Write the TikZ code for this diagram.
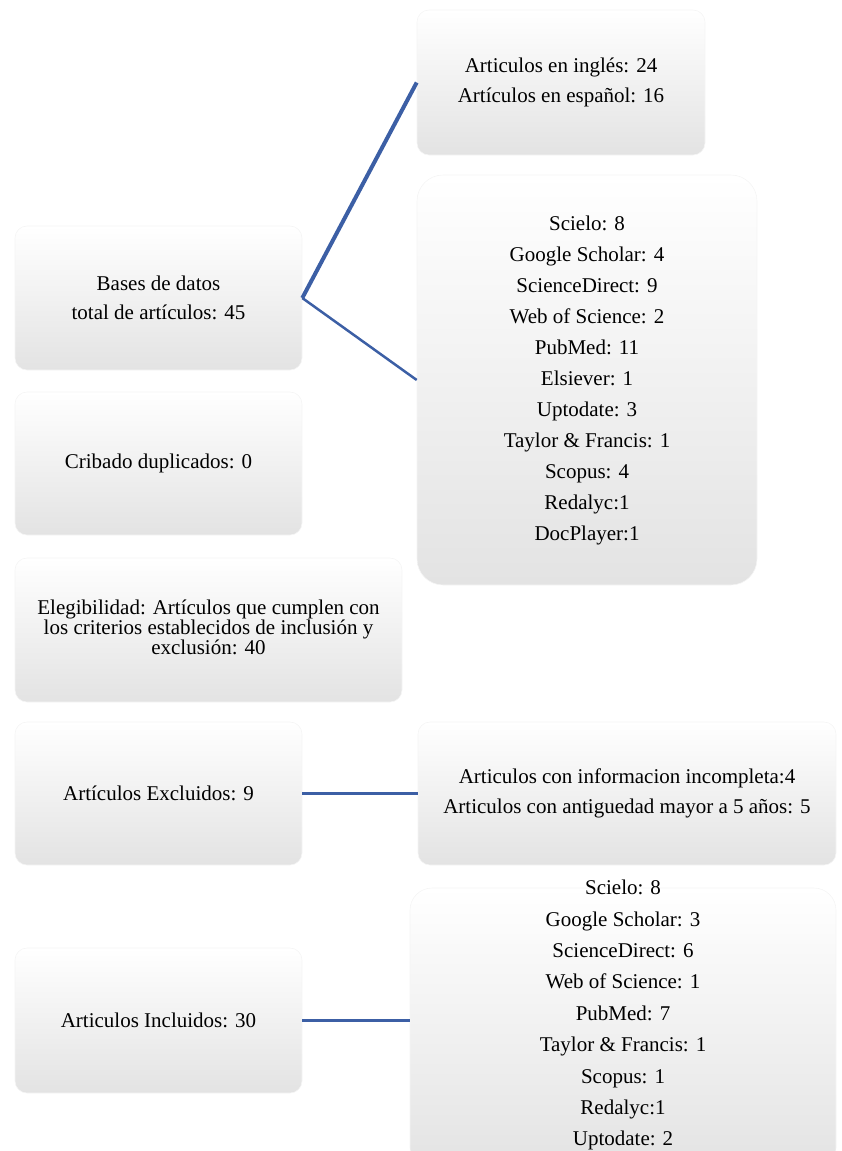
\documentclass[tikz,border=0pt]{standalone}
\usepackage{fontspec}
\setmainfont{Liberation Serif}
\definecolor{linkblue}{RGB}{60,95,165}
\begin{document}
\begin{tikzpicture}[x=1pt,y=-1pt,
  box/.style={rectangle, rounded corners=12pt, top color=white, middle color=white,
    bottom color=black!11, draw=black!4, line width=0.6pt, inner sep=0pt,
    align=center, font=\fontsize{21}{30}\selectfont},
  listtext/.style={inner sep=0pt, align=center, font=\fontsize{21}{31.4}\selectfont},
  conn/.style={draw=linkblue, line width=3pt}]
\useasboundingbox (0,0) rectangle (842,1151);

% left column
\node[box, minimum width=287, minimum height=144, font=\fontsize{21}{29}\selectfont] (bases) at (158.5,298)
  {Bases de datos\\total de artículos: 45};
\node[box, minimum width=287, minimum height=143] (cribado) at (158.5,463.5)
  {Cribado duplicados: 0};
\node[box, minimum width=387, minimum height=144, font=\fontsize{21}{20}\selectfont] (eleg) at (208.5,630)
  {Elegibilidad: Artículos que cumplen con\\los criterios establecidos de inclusión y\\exclusión: 40\\[-14pt]};
\node[box, minimum width=287, minimum height=143] (excl) at (158.5,793.5)
  {Artículos Excluidos: 9};
\node[box, minimum width=287, minimum height=145] (incl) at (158.5,1020.5)
  {Articulos Incluidos: 30};

% right column
\node[box, minimum width=288, minimum height=145] (ingles) at (561,82.5)
  {Articulos en inglés: 24\\Artículos en español: 16};
\node[box, rounded corners=26pt, minimum width=340, minimum height=410, font=\fontsize{21}{31}\selectfont] (fuentes) at (587,380)
  {Scielo: 8\\Google Scholar: 4\\ScienceDirect: 9\\Web of Science: 2\\PubMed: 11\\Elsiever: 1\\Uptodate: 3\\Taylor \& Francis: 1\\Scopus: 4\\Redalyc:1\\DocPlayer:1};
\node[box, minimum width=418, minimum height=143] (exdet) at (627,793.5)
  {Articulos con informacion incompleta:4\\Articulos con antiguedad mayor a 5 años: 5};
\node[box, rounded corners=22pt, minimum width=426, minimum height=282] (indet) at (623,1029) {};
\node[listtext, anchor=north] (indettext) at (623,880)
  {Scielo: 8\\Google Scholar: 3\\ScienceDirect: 6\\Web of Science: 1\\PubMed: 7\\Taylor \& Francis: 1\\Scopus: 1\\Redalyc:1\\Uptodate: 2};

% connectors
\draw[conn, line width=4pt] (bases.east) -- (ingles.west);
\draw[conn, line width=2.5pt] (bases.east) -- (fuentes.west);
\draw[conn] (excl.east) -- (exdet.west);
\draw[conn] (incl.east) -- (incl.east -| indet.west);
\end{tikzpicture}
\end{document}
